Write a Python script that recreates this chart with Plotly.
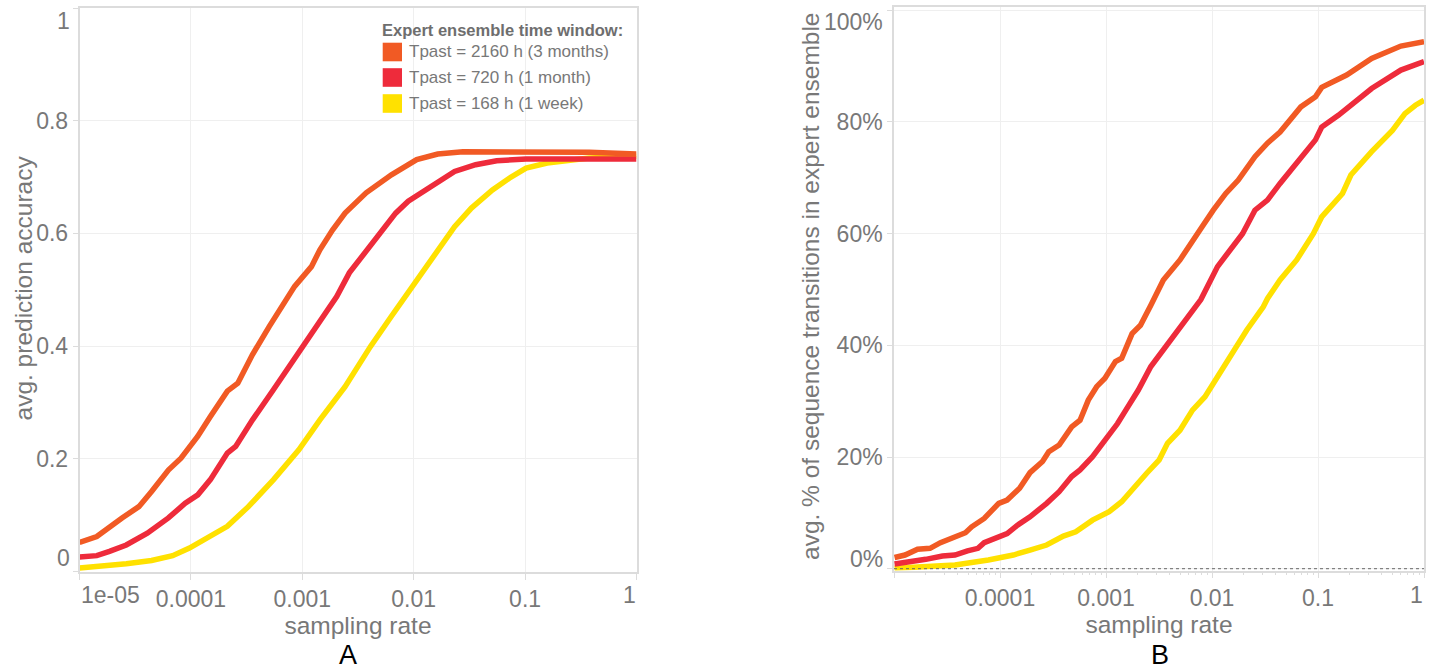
import plotly.graph_objects as go

W, H = 1432, 672

# ---------------- data (log10 of sampling rate, value) ----------------
series_names = ["Tpast = 2160 h (3 months)", "Tpast = 720 h (1 month)", "Tpast = 168 h (1 week)"]
series_colors = ["#f15a24", "#ee2b3b", "#ffe100"]

# Panel A: avg. prediction accuracy
A_log10_rate_2160 = [-5.0, -4.845, -4.618, -4.467, -4.353, -4.202, -4.089, -3.938, -3.825, -3.673, -3.579,
                     -3.447, -3.296, -3.144, -3.069, -2.918, -2.842, -2.729, -2.616, -2.427, -2.20, -1.973,
                     -1.784, -1.558, -1.18, -0.424, 0.0]
A_acc_2160 = [0.0515, 0.062, 0.095, 0.115, 0.142, 0.180, 0.201, 0.240, 0.275, 0.320, 0.334,
              0.385, 0.435, 0.485, 0.506, 0.541, 0.571, 0.606, 0.636, 0.672, 0.704, 0.731,
              0.741, 0.745, 0.745, 0.744, 0.741]

A_log10_rate_720 = [-5.0, -4.845, -4.731, -4.58, -4.391, -4.202, -4.051, -3.938, -3.825, -3.673, -3.598,
                    -3.447, -3.258, -3.069, -2.918, -2.691, -2.578, -2.465, -2.313, -2.162, -2.049, -1.936,
                    -1.784, -1.633, -1.444, -1.255, -0.991, -0.424, 0.0]
A_acc_720 = [0.0255, 0.028, 0.0355, 0.047, 0.068, 0.095, 0.121, 0.136, 0.163, 0.210, 0.222,
             0.269, 0.323, 0.379, 0.423, 0.488, 0.530, 0.559, 0.601, 0.636, 0.657, 0.672,
             0.692, 0.710, 0.722, 0.729, 0.732, 0.732, 0.732]

A_log10_rate_168 = [-5.0, -4.769, -4.58, -4.353, -4.164, -4.013, -3.825, -3.673, -3.484, -3.258, -3.031,
                    -2.842, -2.616, -2.389, -2.20, -2.087, -1.973, -1.822, -1.633, -1.482, -1.293, -1.142,
                    -0.991, -0.802, -0.575, -0.424, 0.0]
A_acc_168 = [0.006, 0.009, 0.0137, 0.0195, 0.028, 0.0415, 0.062, 0.080, 0.115, 0.163, 0.216,
             0.269, 0.328, 0.399, 0.453, 0.485, 0.518, 0.559, 0.612, 0.645, 0.677, 0.698,
             0.716, 0.725, 0.731, 0.734, 0.737]

# Panel B: avg. share of sequence transitions in expert ensemble
B_log10_rate_2160 = [-4.995, -4.896, -4.778, -4.660, -4.562, -4.425, -4.326, -4.267, -4.149, -4.012, -3.933,
                     -3.815, -3.717, -3.599, -3.540, -3.442, -3.383, -3.324, -3.245, -3.167, -3.088, -3.01,
                     -2.911, -2.852, -2.754, -2.675, -2.577, -2.459, -2.302, -2.184, -2.106, -1.988, -1.87,
                     -1.752, -1.595, -1.477, -1.358, -1.162, -1.024, -0.965, -0.73, -0.494, -0.218, 0.0]
B_share_2160 = [0.020, 0.0245, 0.035, 0.0365, 0.0466, 0.056, 0.0645, 0.075, 0.090, 0.117, 0.123,
                0.144, 0.172, 0.192, 0.2095, 0.2215, 0.239, 0.254, 0.266, 0.302, 0.326, 0.341,
                0.371, 0.377, 0.421, 0.436, 0.472, 0.517, 0.553, 0.589, 0.609, 0.642, 0.672,
                0.696, 0.738, 0.762, 0.782, 0.827, 0.845, 0.862, 0.884, 0.914, 0.936, 0.944]

B_log10_rate_720 = [-4.995, -4.818, -4.7, -4.543, -4.425, -4.307, -4.208, -4.149, -4.012, -3.933, -3.835,
                    -3.717, -3.56, -3.442, -3.324, -3.245, -3.127, -3.01, -2.891, -2.813, -2.695, -2.577,
                    -2.459, -2.341, -2.223, -2.105, -1.948, -1.830, -1.712, -1.595, -1.477, -1.358, -1.201,
                    -1.024, -0.965, -0.808, -0.494, -0.218, 0.0]
B_share_720 = [0.0084, 0.0125, 0.0168, 0.0227, 0.0245, 0.032, 0.0365, 0.0466, 0.056, 0.063, 0.078,
               0.093, 0.117, 0.138, 0.165, 0.177, 0.2005, 0.230, 0.260, 0.284, 0.320, 0.362,
               0.392, 0.421, 0.451, 0.482, 0.541, 0.571, 0.600, 0.642, 0.660, 0.690, 0.726,
               0.768, 0.791, 0.812, 0.860, 0.893, 0.908]

B_log10_rate_168 = [-4.995, -4.70, -4.425, -4.11, -3.874, -3.717, -3.56, -3.402, -3.285, -3.127, -2.97,
                    -2.852, -2.734, -2.616, -2.498, -2.42, -2.302, -2.184, -2.066, -1.948, -1.83, -1.673,
                    -1.516, -1.476, -1.358, -1.201, -1.044, -0.965, -0.769, -0.69, -0.494, -0.298, -0.18,
                    -0.081, 0.0]
B_share_168 = [0.0007, 0.0036, 0.0066, 0.0156, 0.0245, 0.0335, 0.0424, 0.0585, 0.066, 0.087, 0.102,
               0.120, 0.147, 0.171, 0.195, 0.2245, 0.248, 0.284, 0.308, 0.344, 0.380, 0.427,
               0.469, 0.484, 0.517, 0.553, 0.600, 0.630, 0.672, 0.705, 0.747, 0.785, 0.815,
               0.830, 0.839]

x_tickvals = [1e-5, 1e-4, 1e-3, 1e-2, 1e-1, 1]
A_x_ticktext = ["", "0.0001", "0.001", "0.01", "0.1", ""]
B_x_ticktext = ["", "0.0001", "0.001", "0.01", "0.1", ""]
A_y_tickvals = [0, 0.2, 0.4, 0.6, 0.8, 1.0]
A_y_ticktext = ["", "0.2", "0.4", "0.6", "0.8", ""]
B_y_tickvals = [0, 0.2, 0.4, 0.6, 0.8, 1.0]
B_y_ticktext = ["", "20%", "40%", "60%", "80%", ""]

x_title = "sampling rate"
A_y_title = "avg. prediction accuracy"
B_y_title = "avg. % of sequence transitions in expert ensemble"

# ---------------- styling ----------------
FONT = "Liberation Sans, Arial, Helvetica, sans-serif"
GREY = "#787878"
LINE = "#dcdcdc"
GRID = "#efefef"
TICK_SIZE = 23
TITLE_SIZE = 24.5
LW = 5.5


def px_x(v):
    return v / W


def px_y(v):
    return 1 - v / H


fig = go.Figure()

panelA = [(A_log10_rate_2160, A_acc_2160), (A_log10_rate_720, A_acc_720), (A_log10_rate_168, A_acc_168)]
panelB = [(B_log10_rate_2160, B_share_2160), (B_log10_rate_720, B_share_720), (B_log10_rate_168, B_share_168)]

# draw yellow first, orange last
for idx in [2, 1, 0]:
    lx, vy = panelA[idx]
    fig.add_trace(go.Scatter(x=[10 ** e for e in lx], y=vy, mode="lines", name=series_names[idx],
                             line=dict(color=series_colors[idx], width=LW), xaxis="x", yaxis="y",
                             showlegend=False))
for idx in [2, 1, 0]:
    lx, vy = panelB[idx]
    fig.add_trace(go.Scatter(x=[10 ** e for e in lx], y=vy, mode="lines", name=series_names[idx],
                             line=dict(color=series_colors[idx], width=LW), xaxis="x2", yaxis="y2",
                             showlegend=False))

common_axis = dict(showline=True, linecolor=LINE, linewidth=1.5, mirror=True,
                   showgrid=True, gridcolor=GRID, gridwidth=1, zeroline=False,
                   ticks="outside", tickcolor=LINE, tickwidth=1,
                   tickfont=dict(family=FONT, size=TICK_SIZE, color=GREY))

fig.update_layout(
    width=W, height=H,
    margin=dict(l=0, r=0, t=0, b=0),
    plot_bgcolor="white", paper_bgcolor="white",
    showlegend=False,
    font=dict(family=FONT, color=GREY),
    xaxis=dict(type="log", range=[-5, 0], domain=[px_x(79.5), px_x(636.5)], anchor="y",
               tickmode="array", tickvals=x_tickvals, ticktext=A_x_ticktext, ticklen=6,
               title=dict(text=x_title, font=dict(family=FONT, size=TITLE_SIZE, color=GREY), standoff=4),
               **common_axis),
    yaxis=dict(range=[-0.001, 1.001], domain=[px_y(572), px_y(7.5)], anchor="x",
               tickmode="array", tickvals=A_y_tickvals, ticktext=A_y_ticktext, ticklen=5,
               **common_axis),
    xaxis2=dict(type="log", range=[-5, 0], domain=[px_x(894), px_x(1424)], anchor="y2",
                tickmode="array", tickvals=x_tickvals, ticktext=B_x_ticktext, ticklen=6,
                minor=dict(ticks="outside", ticklen=3, tickcolor=LINE, dtick="D1", showgrid=False),
                title=dict(text=x_title, font=dict(family=FONT, size=TITLE_SIZE, color=GREY), standoff=4),
                **common_axis),
    yaxis2=dict(range=[-0.0032, 1.0054], domain=[px_y(570.5), px_y(7.3)], anchor="x2",
                tickmode="array", tickvals=B_y_tickvals, ticktext=B_y_ticktext, ticklen=5,
                **common_axis),
)

# dotted zero reference line in panel B
fig.add_shape(type="line", xref="x2 domain", x0=0, x1=1, yref="y2", y0=0, y1=0,
              line=dict(color="#666666", width=1, dash="dot"))

annotations = []
tick_font = dict(family=FONT, size=TICK_SIZE, color=GREY)
title_font = dict(family=FONT, size=TITLE_SIZE, color=GREY)
x_label_y = px_y(595)

# y axis titles
annotations += [
    dict(text=A_y_title, textangle=-90, xref="paper", x=px_x(23), xanchor="center",
         yref="paper", y=px_y(288.5), yanchor="middle", showarrow=False, font=title_font),
    dict(text=B_y_title, textangle=-90, xref="paper", x=px_x(811), xanchor="center",
         yref="paper", y=px_y(287), yanchor="middle", showarrow=False, font=title_font),
]

# flush end labels (first/last tick labels aligned inside the axis extent)
annotations += [
    dict(text="1e-05", xref="x", x=-5, xanchor="left", yref="paper", y=x_label_y, yanchor="middle",
         showarrow=False, font=tick_font, xshift=-1),
    dict(text="1", xref="x", x=0, xanchor="right", yref="paper", y=x_label_y, yanchor="middle",
         showarrow=False, font=tick_font, xshift=1),
    dict(text="1", xref="x2", x=0, xanchor="right", yref="paper", y=x_label_y, yanchor="middle",
         showarrow=False, font=tick_font, xshift=1),
    dict(text="1", xref="paper", x=px_x(72), xanchor="right", yref="paper", y=px_y(21.3), yanchor="middle",
         showarrow=False, font=tick_font),
    dict(text="0", xref="paper", x=px_x(72), xanchor="right", yref="paper", y=px_y(558.3), yanchor="middle",
         showarrow=False, font=tick_font),
    dict(text="100%", xref="paper", x=px_x(885), xanchor="right", yref="paper", y=px_y(21.7), yanchor="middle",
         showarrow=False, font=tick_font),
    dict(text="0%", xref="paper", x=px_x(885), xanchor="right", yref="paper", y=px_y(559), yanchor="middle",
         showarrow=False, font=tick_font),
]

# panel letters
annotations += [
    dict(text="A", xref="paper", x=px_x(348), xanchor="center", yref="paper", y=0, yanchor="bottom",
         showarrow=False, font=dict(family=FONT, size=27, color="#000000")),
    dict(text="B", xref="paper", x=px_x(1160), xanchor="center", yref="paper", y=0, yanchor="bottom",
         showarrow=False, font=dict(family=FONT, size=27, color="#000000")),
]

# legend (drawn in panel A, top right)
annotations.append(dict(text="<b>Expert ensemble time window:</b>", xref="paper", x=px_x(380), xanchor="left",
                        yref="paper", y=px_y(30.3), yanchor="middle", showarrow=False,
                        font=dict(family=FONT, size=16.5, color="#6e6e6e")))
row_centers = [52, 77.5, 103.5]
for name, color, yc in zip(series_names, series_colors, row_centers):
    fig.add_shape(type="rect", xref="paper", yref="paper", x0=px_x(382.7), x1=px_x(402),
                  y0=px_y(yc + 9.3), y1=px_y(yc - 9.3), fillcolor=color, line=dict(width=0))
    annotations.append(dict(text=name, xref="paper", x=px_x(407), xanchor="left", yref="paper",
                            y=px_y(yc), yanchor="middle", showarrow=False,
                            font=dict(family=FONT, size=17, color=GREY)))

fig.update_layout(annotations=annotations)

fig.write_html("out.html",
               config={"displayModeBar": False},
               post_script="document.body.style.margin='0px';document.body.style.overflow='hidden';")
